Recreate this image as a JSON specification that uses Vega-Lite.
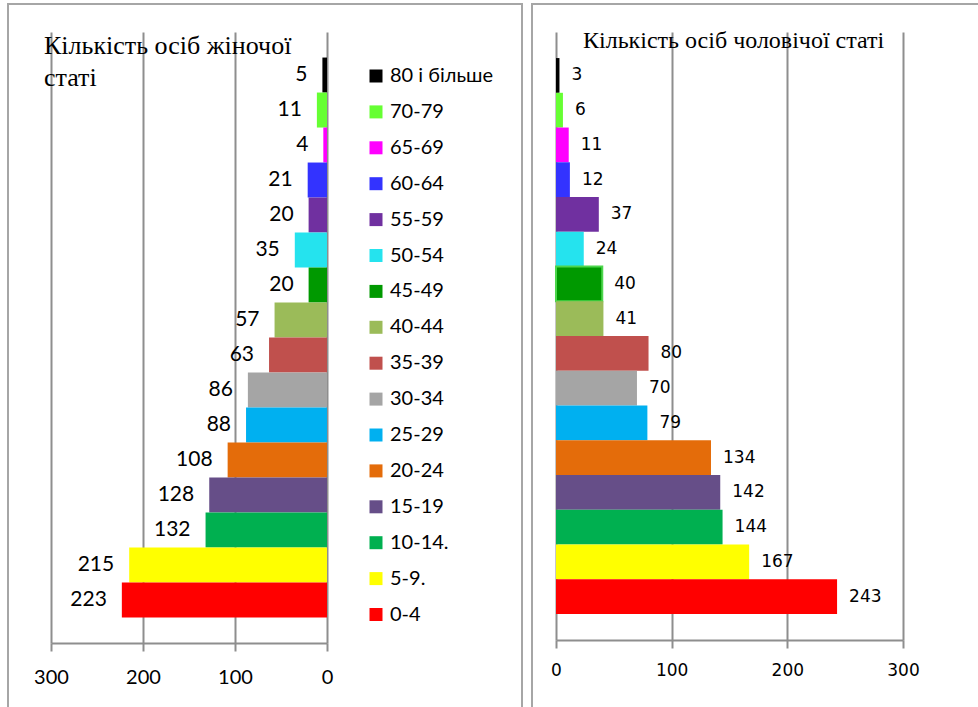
{
  "$schema": "https://vega.github.io/schema/vega-lite/v6.json",
  "padding": {"left": 7, "top": 3, "right": 0, "bottom": 0},
  "background": "white",
  "spacing": 8,
  "data": {
    "values": [
      {"age": "80 і більше", "female": 5, "male": 3},
      {"age": "70-79", "female": 11, "male": 6},
      {"age": "65-69", "female": 4, "male": 11},
      {"age": "60-64", "female": 21, "male": 12},
      {"age": "55-59", "female": 20, "male": 37},
      {"age": "50-54", "female": 35, "male": 24},
      {"age": "45-49", "female": 20, "male": 40},
      {"age": "40-44", "female": 57, "male": 41},
      {"age": "35-39", "female": 63, "male": 80},
      {"age": "30-34", "female": 86, "male": 70},
      {"age": "25-29", "female": 88, "male": 79},
      {"age": "20-24", "female": 108, "male": 134},
      {"age": "15-19", "female": 128, "male": 142},
      {"age": "10-14.", "female": 132, "male": 144},
      {"age": "5-9.", "female": 215, "male": 167},
      {"age": "0-4", "female": 223, "male": 243}
    ]
  },
  "hconcat": [
    {
      "width": 514,
      "height": 705,
      "title": {
        "text": ["Кількість осіб жіночої", "статі"],
        "anchor": "start", "frame": "group", "orient": "top", "offset": 0,
        "baseline": "top", "dx": 36, "dy": 87,
        "font": "Liberation Serif", "fontSize": 26, "fontWeight": "normal",
        "lineHeight": 32, "color": "black"
      },
      "resolve": {"axis": {"x": "independent"}},
      "encoding": {
        "y": {
          "field": "age", "type": "nominal", "axis": null,
          "scale": {
            "domain": ["80 і більше","70-79","65-69","60-64","55-59","50-54","45-49","40-44","35-39","30-34","25-29","20-24","15-19","10-14.","5-9.","0-4"],
            "range": [28, 639], "paddingInner": 0, "paddingOuter": 0.73
          }
        }
      },
      "layer": [
        {
          "mark": {"type": "bar"},
          "encoding": {
            "x": {
              "field": "female", "type": "quantitative",
              "scale": {"domain": [0, 300], "range": [319, 43], "nice": false},
              "axis": {
                "orient": "bottom", "values": [0, 100, 200, 300], "grid": false, "offset": -66,
                "labelFlush": false,
                "labelFont": "Lato", "labelFontSize": 20, "labelPadding": 16
              }
            },
            "color": {
              "field": "age", "type": "nominal",
              "scale": {
                "domain": ["80 і більше","70-79","65-69","60-64","55-59","50-54","45-49","40-44","35-39","30-34","25-29","20-24","15-19","10-14.","5-9.","0-4"],
                "range": ["#000000","#66FF33","#FF00FF","#3333FF","#7030A0","#25E3EE","#009900","#9BBB59","#C0504D","#A5A5A5","#00B0F0","#E46C0A","#664E88","#00B050","#FFFF00","#FF0000"]
              },
              "legend": {
                "orient": "none", "legendX": 358, "legendY": 62, "title": null,
                "symbolType": "square", "symbolSize": 169, "symbolStrokeWidth": 0,
                "labelFont": "Lato", "labelFontSize": 20, "labelColor": "black",
                "labelOffset": 4, "rowPadding": 15.9, "padding": 0
              }
            }
          }
        },
        {
          "mark": {"type": "text", "align": "right", "baseline": "middle", "dx": -15, "font": "Lato", "fontSize": 21, "color": "black"},
          "encoding": {
            "x": {
              "field": "female", "type": "quantitative",
              "axis": {
                "orient": "top", "values": [0, 100, 200, 300], "grid": true,
                "domain": false, "ticks": false, "labels": false
              }
            },
            "text": {"field": "female"}
          }
        }
      ]
    },
    {
      "width": 447,
      "height": 705,
      "title": {
        "text": "Кількість осіб чоловічої статі",
        "anchor": "start", "frame": "group", "orient": "top", "offset": 0,
        "baseline": "top", "dx": 51, "dy": 49,
        "font": "Liberation Serif", "fontSize": 24, "fontWeight": "normal", "color": "black"
      },
      "resolve": {"axis": {"x": "independent"}},
      "encoding": {
        "y": {
          "field": "age", "type": "nominal", "axis": null,
          "scale": {
            "domain": ["80 і більше","70-79","65-69","60-64","55-59","50-54","45-49","40-44","35-39","30-34","25-29","20-24","15-19","10-14.","5-9.","0-4"],
            "range": [28, 636], "paddingInner": 0, "paddingOuter": 0.75
          }
        }
      },
      "layer": [
        {
          "mark": {"type": "bar"},
          "encoding": {
            "x": {
              "field": "male", "type": "quantitative",
              "scale": {"domain": [0, 300], "range": [24, 371], "nice": false},
              "axis": {
                "orient": "bottom", "values": [0, 100, 200, 300], "grid": false, "offset": -69,
                "labelFlush": false,
                "labelFont": "DejaVu Sans", "labelFontSize": 17, "labelPadding": 14
              }
            },
            "color": {"field": "age", "type": "nominal", "legend": null},
            "stroke": {"condition": {"test": "datum.age === '45-49'", "value": "#4CD64C"}, "value": "transparent"},
            "strokeWidth": {"value": 2}
          }
        },
        {
          "mark": {"type": "text", "align": "left", "baseline": "middle", "dx": 12, "font": "DejaVu Sans", "fontSize": 17, "color": "black"},
          "encoding": {
            "x": {
              "field": "male", "type": "quantitative",
              "axis": {
                "orient": "top", "values": [0, 100, 200, 300], "grid": true,
                "domain": false, "ticks": false, "labels": false
              }
            },
            "text": {"field": "male"}
          }
        }
      ]
    }
  ],
  "config": {
    "view": {"stroke": "#a6a6a6", "strokeWidth": 2},
    "title": {"font": "Liberation Serif", "fontWeight": "normal"},
    "axis": {
      "title": null, "domainColor": "#8e8e8e", "domainWidth": 2,
      "tickColor": "#8e8e8e", "tickWidth": 2, "tickSize": 8,
      "gridColor": "#8e8e8e", "gridWidth": 2, "labelColor": "black"
    }
  }
}
